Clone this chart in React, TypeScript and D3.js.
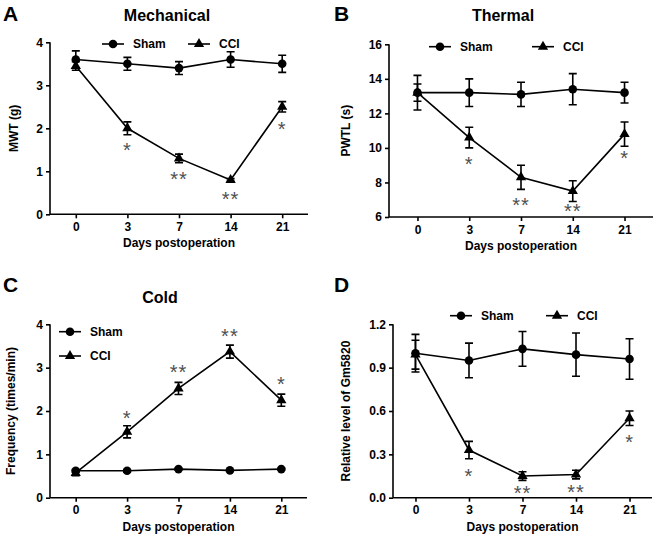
import { useEffect, useRef } from 'react';
import * as d3 from 'd3';

const days = ['0', '3', '7', '14', '21'];

// Mechanical (MWT, g)
const mechShamMean = [3.6, 3.5, 3.4, 3.6, 3.5];
const mechShamErr = [0.2, 0.15, 0.15, 0.18, 0.2];
const mechCciMean = [3.45, 2.0, 1.3, 0.8, 2.5];
const mechCciErr = [0.1, 0.15, 0.1, 0.03, 0.12];
const mechStars = ['', '*', '**', '**', '*'];
const mechTicks = [0, 1, 2, 3, 4];

// Thermal (PWTL, s)
const thermShamMean = [13.2, 13.2, 13.1, 13.4, 13.2];
const thermShamErr = [1.0, 0.8, 0.7, 0.9, 0.6];
const thermCciMean = [13.2, 10.6, 8.3, 7.5, 10.8];
const thermCciErr = [0.5, 0.6, 0.7, 0.6, 0.7];
const thermStars = ['', '*', '**', '**', '*'];
const thermTicks = [6, 8, 10, 12, 14, 16];

// Cold (frequency, times/min)
const coldShamMean = [0.62, 0.62, 0.66, 0.63, 0.66];
const coldShamErr = [0.03, 0.03, 0.02, 0.02, 0.02];
const coldCciMean = [0.57, 1.52, 2.52, 3.37, 2.25];
const coldCciErr = [0.06, 0.14, 0.14, 0.15, 0.14];
const coldStars = ['', '*', '**', '**', '*'];
const coldTicks = [0, 1, 2, 3, 4];

// Gm5820 relative level
const gmShamMean = [1.0, 0.95, 1.03, 0.99, 0.96];
const gmShamErr = [0.13, 0.12, 0.12, 0.15, 0.14];
const gmCciMean = [0.99, 0.33, 0.15, 0.16, 0.55];
const gmCciErr = [0.1, 0.06, 0.03, 0.03, 0.05];
const gmStars = ['', '*', '**', '**', '*'];
const gmTicks = [0, 0.3, 0.6, 0.9, 1.2];

const FONT = 'Arial, "Liberation Sans", Helvetica, sans-serif';

interface PanelCfg {
  letter: string;
  letterX: number;
  letterY: number;
  title?: string;
  titleX?: number;
  titleY?: number;
  yLabel: string;
  yLabelX: number;
  x0: number;
  x1: number;
  yTop: number;
  yBot: number;
  padding: number;
  ticks: number[];
  fmt: (v: number) => string;
  shamMean: number[];
  shamErr: number[];
  cciMean: number[];
  cciErr: number[];
  stars: string[];
  starsAbove: boolean;
  starGap: number[];
  legend: { x: number; y: number; x2: number; y2: number };
}

const panels: PanelCfg[] = [
  {
    letter: 'A', letterX: 3, letterY: 21, title: 'Mechanical', titleX: 167, titleY: 21,
    yLabel: 'MWT (g)', yLabelX: 18,
    x0: 50, x1: 308, yTop: 42.3, yBot: 214.3, padding: 0.5,
    ticks: mechTicks, fmt: d3.format('d'),
    shamMean: mechShamMean, shamErr: mechShamErr, cciMean: mechCciMean, cciErr: mechCciErr,
    stars: mechStars, starsAbove: false, starGap: [0, 12, 13, 15, 14],
    legend: { x: 113, y: 44, x2: 199, y2: 44 }
  },
  {
    letter: 'B', letterX: 334, letterY: 21, title: 'Thermal', titleX: 503, titleY: 21,
    yLabel: 'PWTL (s)', yLabelX: 350,
    x0: 389, x1: 653, yTop: 44.3, yBot: 217, padding: 0.55,
    ticks: thermTicks, fmt: d3.format('d'),
    shamMean: thermShamMean, shamErr: thermShamErr, cciMean: thermCciMean, cciErr: thermCciErr,
    stars: thermStars, starsAbove: false, starGap: [0, 13.5, 12.5, 7, 8.5],
    legend: { x: 440, y: 46.7, x2: 543, y2: 46.7 }
  },
  {
    letter: 'C', letterX: 3, letterY: 292, title: 'Cold', titleX: 160, titleY: 303,
    yLabel: 'Frequency (times/min)', yLabelX: 15,
    x0: 50, x1: 307, yTop: 324.3, yBot: 497.7, padding: 0.5,
    ticks: coldTicks, fmt: d3.format('d'),
    shamMean: coldShamMean, shamErr: coldShamErr, cciMean: coldCciMean, cciErr: coldCciErr,
    stars: coldStars, starsAbove: true, starGap: [0, 11, 13, 12, 13.5],
    legend: { x: 70, y: 331.7, x2: 70, y2: 356 }
  },
  {
    letter: 'D', letterX: 334, letterY: 292,
    yLabel: 'Relative level of Gm5820', yLabelX: 350,
    x0: 393, x1: 652, yTop: 324.3, yBot: 497.7, padding: 0.42,
    ticks: gmTicks, fmt: d3.format('.1f'),
    shamMean: gmShamMean, shamErr: gmShamErr, cciMean: gmCciMean, cciErr: gmCciErr,
    stars: gmStars, starsAbove: false, starGap: [0, 14, 10, 10, 14],
    legend: { x: 461, y: 315.7, x2: 557, y2: 315.7 }
  }
];

const triangle = d3.symbol().type(d3.symbolTriangle).size(46);
const STAR_SIZE = 20;

function drawPanel(svg: d3.Selection<SVGSVGElement, unknown, null, undefined>, p: PanelCfg) {
  const g = svg.append('g');

  const x = d3.scalePoint<string>().domain(days).range([p.x0, p.x1]).padding(p.padding);
  const y = d3.scaleLinear()
    .domain([p.ticks[0], p.ticks[p.ticks.length - 1]])
    .range([p.yBot, p.yTop]);

  // axes
  const yAxis = g.append('g')
    .attr('transform', `translate(${p.x0},0)`)
    .call(d3.axisLeft(y).tickValues(p.ticks).tickFormat(d => p.fmt(d as number)).tickSize(4).tickSizeOuter(0).tickPadding(3));
  const xAxis = g.append('g')
    .attr('transform', `translate(0,${p.yBot})`)
    .call(d3.axisBottom(x).tickSize(4).tickSizeOuter(0).tickPadding(4));

  [yAxis, xAxis].forEach(ax => {
    ax.selectAll('path, line').attr('stroke', '#000').attr('stroke-width', 1.6);
    ax.selectAll('text')
      .attr('fill', '#000')
      .attr('font-family', FONT)
      .attr('font-weight', 'bold')
      .attr('font-size', '12px');
  });
  yAxis.select('.domain').attr('d', `M0,${p.yTop}V${p.yBot}`);
  xAxis.select('.domain').attr('d', `M${p.x0},0H${p.x1}`);

  // labels
  g.append('text')
    .attr('x', p.letterX).attr('y', p.letterY)
    .attr('font-family', FONT).attr('font-weight', 'bold').attr('font-size', '21px')
    .text(p.letter);

  if (p.title) {
    g.append('text')
      .attr('x', p.titleX!).attr('y', p.titleY!)
      .attr('text-anchor', 'middle')
      .attr('font-family', FONT).attr('font-weight', 'bold').attr('font-size', '16px')
      .text(p.title);
  }

  g.append('text')
    .attr('x', (p.x0 + p.x1) / 2).attr('y', p.yBot + 33)
    .attr('text-anchor', 'middle')
    .attr('font-family', FONT).attr('font-weight', 'bold').attr('font-size', '12px')
    .text('Days postoperation');

  g.append('text')
    .attr('transform', `translate(${p.yLabelX},${(p.yTop + p.yBot) / 2}) rotate(-90)`)
    .attr('text-anchor', 'middle')
    .attr('font-family', FONT).attr('font-weight', 'bold').attr('font-size', '12px')
    .text(p.yLabel);

  // series
  const series = [
    { mean: p.shamMean, err: p.shamErr, marker: 'circle' },
    { mean: p.cciMean, err: p.cciErr, marker: 'triangle' }
  ];

  const line = d3.line<number>()
    .x((_, i) => x(days[i])!)
    .y(d => y(d));

  series.forEach(s => {
    g.append('path')
      .datum(s.mean)
      .attr('fill', 'none')
      .attr('stroke', '#000')
      .attr('stroke-width', 1.6)
      .attr('d', line);
  });

  series.forEach(s => {
    s.mean.forEach((m, i) => {
      const cx = x(days[i])!;
      const hi = y(m + s.err[i]);
      const lo = y(m - s.err[i]);
      g.append('path')
        .attr('d', `M${cx},${hi}V${lo}M${cx - 4},${hi}H${cx + 4}M${cx - 4},${lo}H${cx + 4}`)
        .attr('stroke', '#000')
        .attr('stroke-width', 1.6)
        .attr('fill', 'none');
    });
  });

  series.forEach(s => {
    s.mean.forEach((m, i) => {
      const cx = x(days[i])!;
      if (s.marker === 'circle') {
        g.append('circle').attr('cx', cx).attr('cy', y(m)).attr('r', 4.3).attr('fill', '#000');
      } else {
        g.append('path').attr('d', triangle()).attr('transform', `translate(${cx},${y(m)})`).attr('fill', '#000');
      }
    });
  });

  // significance marks (star centre sits starGap px from the bar end)
  p.stars.forEach((st, i) => {
    if (!st) return;
    const cx = x(days[i])!;
    const m = p.cciMean[i];
    const e = p.cciErr[i];
    const half = STAR_SIZE * 0.5;
    const gap = p.starGap[i];
    const yy = p.starsAbove ? y(m + e) - gap + half : y(m - e) + gap + half;
    g.append('text')
      .attr('x', cx).attr('y', yy)
      .attr('text-anchor', 'middle')
      .attr('font-family', FONT)
      .attr('font-size', `${STAR_SIZE}px`)
      .attr('letter-spacing', '1px')
      .attr('fill', '#505050')
      .text(st);
  });

  // legend
  const L = p.legend;
  const items = [
    { name: 'Sham', marker: 'circle', mx: L.x, my: L.y },
    { name: 'CCI', marker: 'triangle', mx: L.x2, my: L.y2 }
  ];
  items.forEach(it => {
    g.append('line')
      .attr('x1', it.mx - 11).attr('x2', it.mx + 11)
      .attr('y1', it.my).attr('y2', it.my)
      .attr('stroke', '#000').attr('stroke-width', 1.6);
    if (it.marker === 'circle') {
      g.append('circle').attr('cx', it.mx).attr('cy', it.my).attr('r', 4.3).attr('fill', '#000');
    } else {
      g.append('path').attr('d', triangle()).attr('transform', `translate(${it.mx},${it.my})`).attr('fill', '#000');
    }
    g.append('text')
      .attr('x', it.mx + 20).attr('y', it.my)
      .attr('dominant-baseline', 'central')
      .attr('font-family', FONT).attr('font-weight', 'bold').attr('font-size', '12px')
      .text(it.name);
  });
}

export default function App() {
  const svgRef = useRef<SVGSVGElement>(null);

  useEffect(() => {
    if (!svgRef.current) return;
    const svg = d3.select(svgRef.current);
    svg.selectAll('*').remove();
    panels.forEach(p => drawPanel(svg, p));
  }, []);

  return (
    <svg
      ref={svgRef}
      width={661}
      height={539}
      style={{ position: 'absolute', left: 0, top: 0, background: '#fff' }}
    />
  );
}
